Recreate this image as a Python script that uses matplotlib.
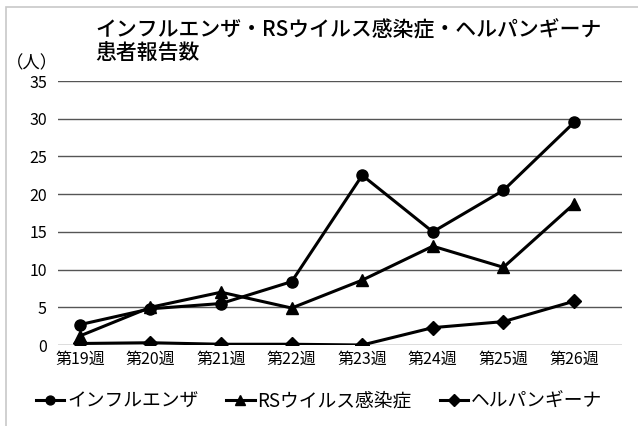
import matplotlib
matplotlib.use("Agg")
from matplotlib import pyplot as plt
from matplotlib.patches import Rectangle

plt.rcParams['font.family'] = ['Noto Sans CJK JP', 'DejaVu Sans']

# data
weeks = ['第19週', '第20週', '第21週', '第22週', '第23週', '第24週', '第25週', '第26週']
influenza = [2.7, 4.8, 5.5, 8.4, 22.5, 15.0, 20.5, 29.5]
rs_virus = [1.2, 5.0, 7.0, 4.9, 8.6, 13.1, 10.3, 18.7]
herpangina = [0.2, 0.3, 0.1, 0.1, 0.0, 2.3, 3.1, 5.8]
series_names = ['インフルエンザ', 'RSウイルス感染症', 'ヘルパンギーナ']

W, H = 638, 426
fig = plt.figure(figsize=(W / 100, H / 100), dpi=100)

# light outer frame of the chart (left and top visible)
fig.patches.append(Rectangle((6 / W, -0.1), 1.2, 1 - 7 / H + 0.1, transform=fig.transFigure,
                             fill=False, ec='#c8c8c8', lw=1.2))

# plot area in pixels: left 58, right 622, top 81, bottom 345
ax = fig.add_axes([58 / W, 1 - 345 / H, (622 - 58) / W, (345 - 81) / H])

x = list(range(len(weeks)))
lw = 2.2
ax.plot(x, influenza, color='black', lw=lw, marker='o', ms=8, label=series_names[0], zorder=3)
ax.plot(x, rs_virus, color='black', lw=lw, marker='^', ms=9, label=series_names[1], zorder=3)
ax.plot(x, herpangina, color='black', lw=lw, marker='D', ms=7.5, label=series_names[2], zorder=3)

ax.set_xlim(-0.31, 7.68)
ax.set_ylim(0, 35)
ax.set_yticks(range(0, 36, 5))
ax.set_xticks(x)
ax.set_xticklabels(weeks)
ax.yaxis.grid(True, color='#555555', lw=1.0)
ax.set_axisbelow(True)
for s in ax.spines.values():
    s.set_visible(False)
ax.tick_params(axis='both', length=0, labelsize=11.5, colors='black')
ax.tick_params(axis='y', pad=8)
ax.tick_params(axis='x', pad=4)

fig.text(95 / W, 1 - 30 / H, 'インフルエンザ・RSウイルス感染症・ヘルパンギーナ',
         fontsize=15, fontweight='medium', va='center', ha='left')
fig.text(95 / W, 1 - 53 / H, '患者報告数', fontsize=15, fontweight='medium',
         va='center', ha='left')
fig.text(6 / W, 1 - 63 / H, '（人）', fontsize=12.5, va='center', ha='left')

fig.legend(loc='center', bbox_to_anchor=(0.5, 1 - 401 / H), ncol=3, frameon=False,
           fontsize=13.5, handlelength=1.5, handletextpad=0.15, columnspacing=1.5,
           markerscale=0.8)

fig.savefig('out.png', dpi=100)
